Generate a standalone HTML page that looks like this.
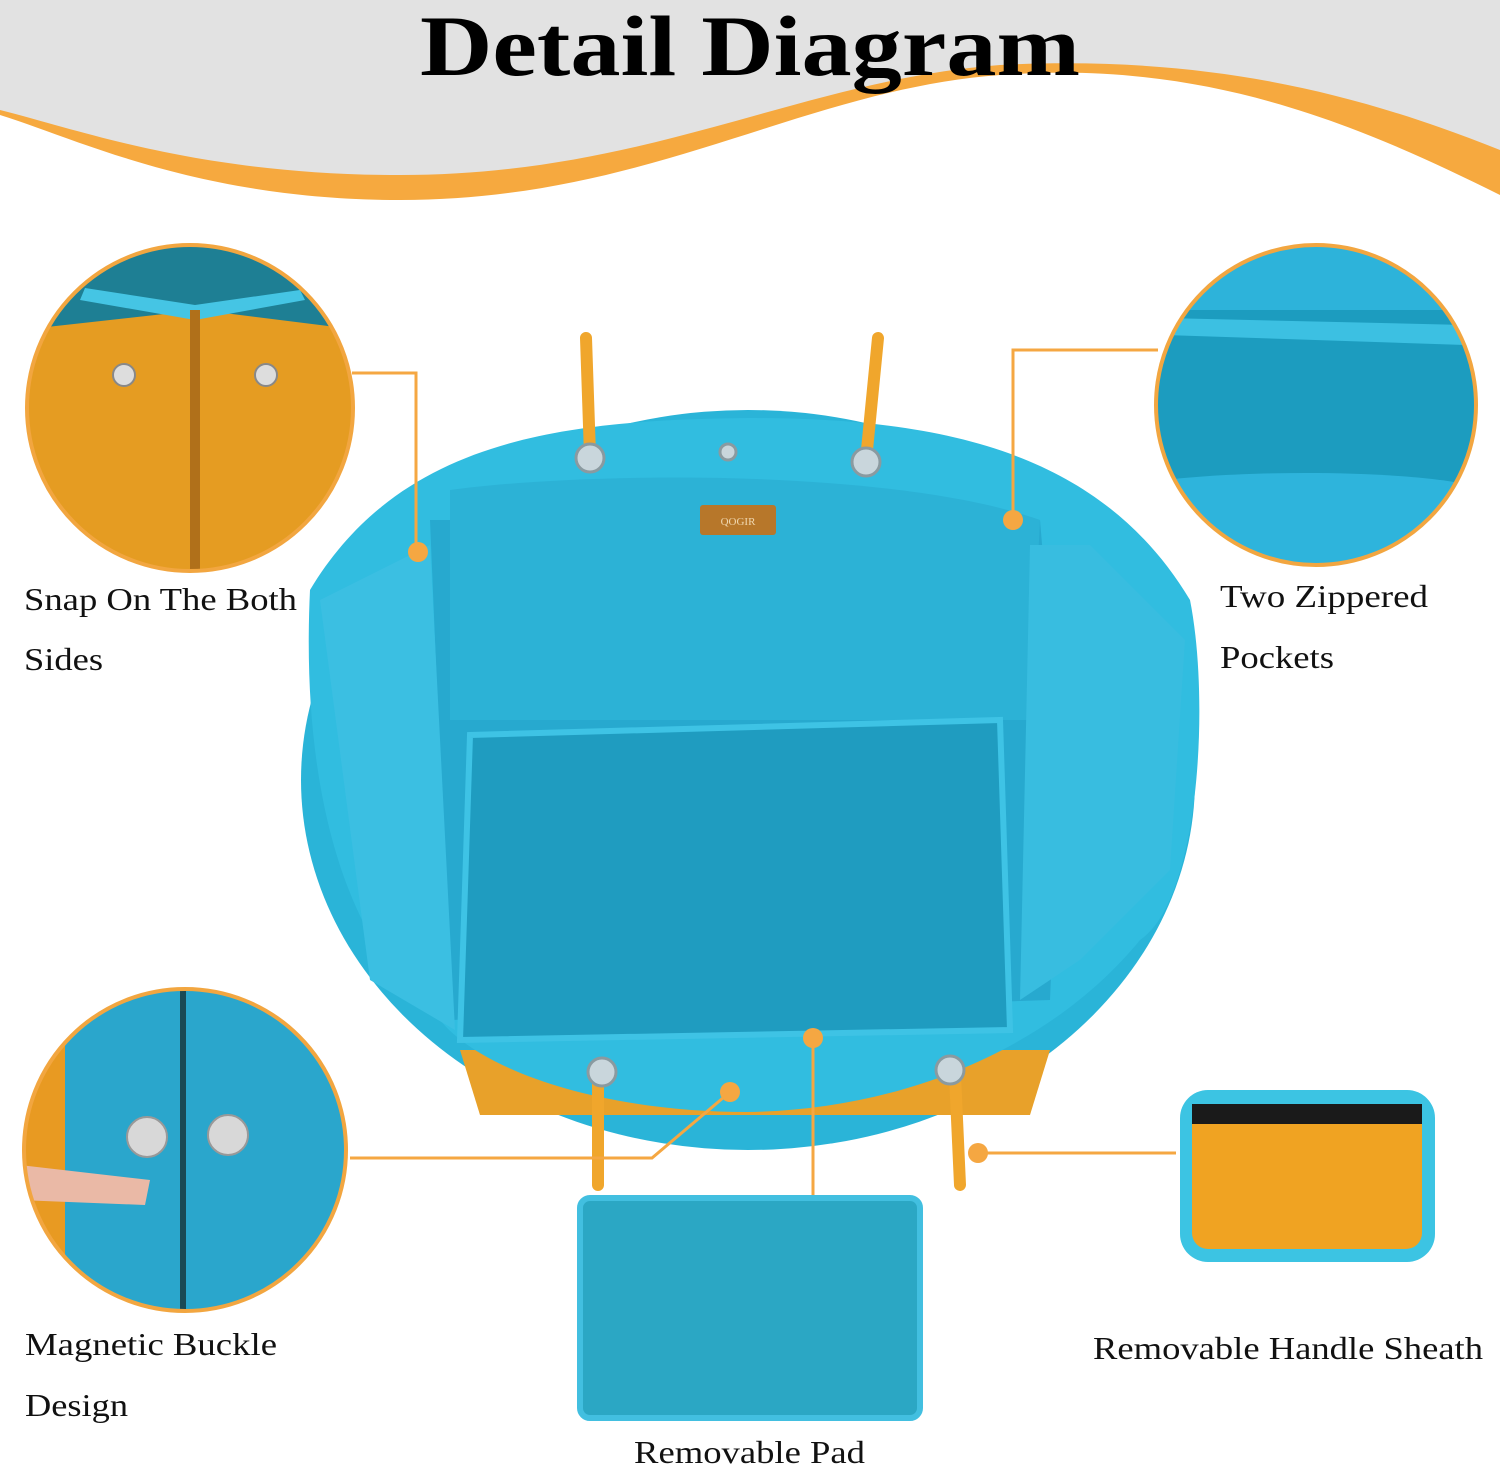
<!DOCTYPE html>
<html><head><meta charset="utf-8"><style>
html,body{margin:0;padding:0;background:#fff}
svg{display:block}
text{font-family:"Liberation Serif",serif}
</style></head><body>
<svg width="1500" height="1467" viewBox="0 0 1500 1467" xmlns="http://www.w3.org/2000/svg">
<defs>
<clipPath id="c1"><circle cx="190" cy="408" r="162"/></clipPath>
<clipPath id="c2"><circle cx="1316" cy="405" r="159"/></clipPath>
<clipPath id="c3"><circle cx="185" cy="1150" r="160"/></clipPath>
</defs>
<rect width="1500" height="1467" fill="#fff"/>
<!-- header -->
<path d="M0,0 H1500 V195 C1350,120 1200,60 1000,75 C800,90 650,200 400,200 C200,200 80,140 0,115 Z" fill="#f6a93f"/>
<path d="M0,0 H1500 V150 C1350,90 1200,55 1000,65 C800,80 650,175 400,175 C200,175 80,130 0,110 Z" fill="#e2e2e2"/>
<text x="420" y="75" font-size="86" font-weight="bold" textLength="660" lengthAdjust="spacingAndGlyphs" fill="#000">Detail Diagram</text>

<!-- bag -->
<ellipse cx="748" cy="780" rx="447" ry="370" fill="#2ab4d8"/>
<path d="M460,1050 L480,1115 L1030,1115 L1050,1050 Z" fill="#e8a12a"/>
<path d="M310,590 C400,440 560,420 748,418 C940,418 1100,450 1190,600 C1210,700 1200,900 1140,940 C1050,1050 900,1110 748,1112 C600,1112 480,1070 440,1020 C350,950 300,800 310,590 Z" fill="#31bde0"/>
<path d="M430,520 L1040,520 L1060,760 L1050,1000 L450,1020 L440,760 Z" fill="#27a9cf"/>
<path d="M450,490 C600,470 900,470 1040,520 L1030,720 L450,720 Z" fill="#2cb2d6"/>
<path d="M470,735 L1000,720 L1010,1030 L460,1040 Z" fill="#1f9cc0" stroke="#3ec3e5" stroke-width="6"/>
<path d="M320,600 L430,545 L455,1030 L370,980 Z" fill="#3bbfe2"/>
<path d="M1030,545 L1090,545 L1185,640 L1170,870 L1080,960 L1020,1000 Z" fill="#38bde0"/>
<rect x="700" y="505" width="76" height="30" rx="3" fill="#b7772a"/>
<text x="738" y="525" font-size="11" text-anchor="middle" fill="#f0d8b0">QOGIR</text>
<!-- handles -->
<g stroke="#f0a62c" stroke-width="12" stroke-linecap="round">
<line x1="586" y1="338" x2="590" y2="455"/><line x1="878" y1="338" x2="866" y2="460"/>
<line x1="598" y1="1075" x2="598" y2="1185"/><line x1="955" y1="1075" x2="960" y2="1185"/>
</g>
<g fill="#c9d6dc" stroke="#8a9aa0" stroke-width="3">
<circle cx="590" cy="458" r="14"/><circle cx="866" cy="462" r="14"/><circle cx="602" cy="1072" r="14"/><circle cx="950" cy="1070" r="14"/><circle cx="728" cy="452" r="8"/>
</g>

<!-- circles -->
<g clip-path="url(#c1)">
<rect x="20" y="240" width="340" height="340" fill="#e59c22"/>
<path d="M20,240 H360 V330 L200,310 L20,330 Z" fill="#1e7f94"/>
<path d="M80,300 L195,320 L305,300 L300,290 L195,305 L85,288 Z" fill="#45c5e4"/>
<rect x="190" y="310" width="10" height="270" fill="#b0701a"/>
<circle cx="124" cy="375" r="11" fill="#ddd" stroke="#888" stroke-width="2"/>
<circle cx="266" cy="375" r="11" fill="#ddd" stroke="#888" stroke-width="2"/>
</g>
<circle cx="190" cy="408" r="163" fill="none" stroke="#f2a640" stroke-width="4"/>

<g clip-path="url(#c2)">
<rect x="1150" y="240" width="340" height="340" fill="#1c9cbf"/>
<rect x="1150" y="240" width="340" height="70" fill="#2db3da"/>
<path d="M1165,335 L1465,345 L1465,325 L1165,318 Z" fill="#3cc0e2"/>
<path d="M1165,480 C1250,470 1400,470 1470,485 L1470,600 L1165,600 Z" fill="#2eb4dc"/>
</g>
<circle cx="1316" cy="405" r="160" fill="none" stroke="#f2a640" stroke-width="4"/>

<g clip-path="url(#c3)">
<rect x="20" y="985" width="330" height="330" fill="#2aa6cc"/>
<rect x="20" y="985" width="45" height="330" fill="#e89a22"/>
<rect x="180" y="985" width="6" height="330" fill="#1a4a55"/>
<circle cx="147" cy="1137" r="20" fill="#d8d8d8" stroke="#999" stroke-width="2"/>
<circle cx="228" cy="1135" r="20" fill="#d8d8d8" stroke="#999" stroke-width="2"/>
<path d="M20,1165 L150,1180 L145,1205 L20,1200 Z" fill="#eab9a6"/>
</g>
<circle cx="185" cy="1150" r="161" fill="none" stroke="#f2a640" stroke-width="4"/>

<!-- pad -->
<rect x="580" y="1198" width="340" height="220" rx="10" fill="#2ba7c4" stroke="#42bfe0" stroke-width="6"/>
<!-- sheath -->
<rect x="1180" y="1090" width="255" height="172" rx="28" fill="#3cc4e3"/>
<rect x="1192" y="1104" width="230" height="145" rx="16" fill="#f0a322"/>
<rect x="1192" y="1104" width="230" height="20" fill="#1a1a1a"/>

<!-- connectors -->
<g stroke="#f5a742" stroke-width="3" fill="none">
<polyline points="352,373 416,373 416,552"/>
<polyline points="1158,350 1013,350 1013,520"/>
<polyline points="350,1158 652,1158 730,1092"/>
<line x1="813" y1="1038" x2="813" y2="1195"/>
<line x1="978" y1="1153" x2="1176" y2="1153"/>
</g>
<g fill="#f5a742">
<circle cx="418" cy="552" r="10"/><circle cx="1013" cy="520" r="10"/><circle cx="730" cy="1092" r="10"/><circle cx="813" cy="1038" r="10"/><circle cx="978" cy="1153" r="10"/>
</g>

<!-- labels -->
<g font-size="32" fill="#111">
<text x="24" y="610" textLength="273" lengthAdjust="spacingAndGlyphs">Snap On The Both</text>
<text x="24" y="670" textLength="79" lengthAdjust="spacingAndGlyphs">Sides</text>
<text x="1220" y="607" textLength="208" lengthAdjust="spacingAndGlyphs">Two Zippered</text>
<text x="1220" y="668" textLength="114" lengthAdjust="spacingAndGlyphs">Pockets</text>
<text x="25" y="1355" textLength="252" lengthAdjust="spacingAndGlyphs">Magnetic Buckle</text>
<text x="25" y="1416" textLength="103" lengthAdjust="spacingAndGlyphs">Design</text>
<text x="1093" y="1359" textLength="390" lengthAdjust="spacingAndGlyphs">Removable Handle Sheath</text>
<text x="634" y="1463" textLength="231" lengthAdjust="spacingAndGlyphs">Removable Pad</text>
</g>
</svg>
</body></html>
